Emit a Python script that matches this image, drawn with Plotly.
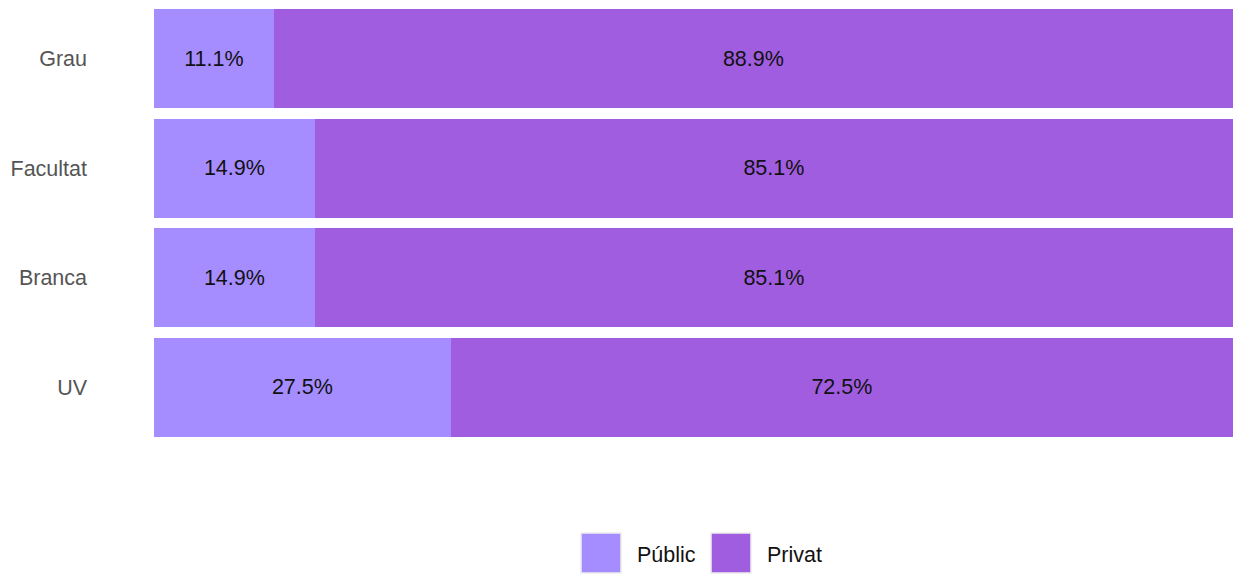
import plotly.graph_objects as go

categories = ["Grau", "Facultat", "Branca", "UV"]
public_vals = [11.1, 14.9, 14.9, 27.5]
private_vals = [88.9, 85.1, 85.1, 72.5]
series_names = ["Públic", "Privat"]
colors = ["#a58cff", "#a05ddf"]

FONT = "Liberation Sans, Arial, sans-serif"

fig = go.Figure()
for name, vals, col in zip(series_names, [public_vals, private_vals], colors):
    fig.add_trace(go.Bar(
        y=categories, x=vals, name=name, orientation="h",
        marker=dict(color=col, line=dict(width=0)),
        text=[f"{v:.1f}%" for v in vals], textposition="inside",
        insidetextanchor="middle", textangle=0,
        textfont=dict(family=FONT, size=21.5, color="#111111"),
        showlegend=False, hoverinfo="skip",
    ))

W, H = 1233, 574
L, R, T, B = 154, 0, 4, 132
pw, ph = W - L - R, H - T - B

fig.update_layout(
    barmode="stack", bargap=0.1,
    width=W, height=H,
    margin=dict(l=L, r=R, t=T, b=B, pad=0),
    plot_bgcolor="white", paper_bgcolor="white",
    uniformtext=dict(mode=False),
    xaxis=dict(range=[0, 100], visible=False, fixedrange=True),
    yaxis=dict(autorange="reversed", showgrid=False, zeroline=False, showline=False,
               ticks="", ticklabelstandoff=66, fixedrange=True,
               tickfont=dict(family=FONT, size=21.5, color="#555555")),
)

# custom legend (large square swatches)
legend_items = [(series_names[0], colors[0], 581), (series_names[1], colors[1], 711)]
for name, col, x0 in legend_items:
    fig.add_shape(type="rect", xref="paper", yref="paper",
                  x0=(x0 - L) / pw, x1=(x0 + 40 - L) / pw,
                  y0=(H - B - 573) / ph, y1=(H - B - 533) / ph,
                  fillcolor=col, line=dict(color="#eeeeee", width=1.5))
    fig.add_annotation(xref="paper", yref="paper",
                       x=(x0 + 54 - L) / pw, y=(H - B - 555) / ph,
                       xanchor="left", yanchor="middle", showarrow=False,
                       text=name,
                       font=dict(family=FONT, size=21.5, color="#111111"))

fig.write_html("out.html", config={"displayModeBar": False},
               post_script="document.body.style.margin='0';")
